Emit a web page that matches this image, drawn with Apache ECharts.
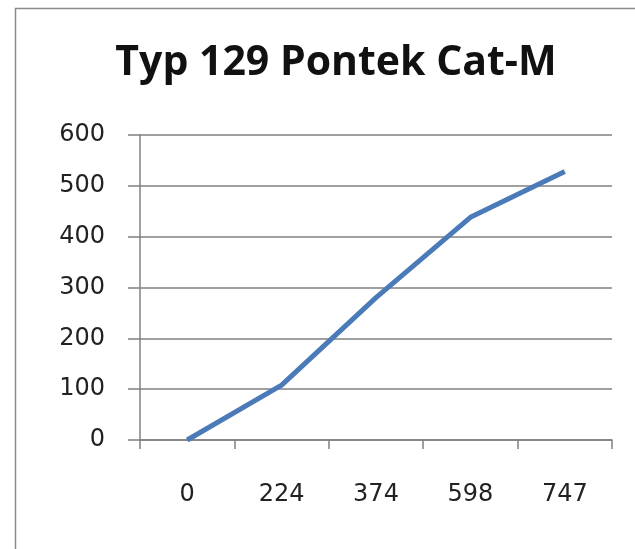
<!DOCTYPE html>
<html>
  <head>
    <meta charset="utf-8" />
    <title>ECharts</title>
    <script src="https://cdn.jsdelivr.net/npm/echarts@6/dist/echarts.min.js"></script>
    <style>
      body { margin: 0; background: #fff; }
    </style>
  </head>
  <body>
    <div id="main" style="width: 635px;height:549px;"></div>
    <script type="text/javascript">
      // data
      var categories = ['0', '224', '374', '598', '747'];
      var values = [0, 108, 280, 438, 528];
      var yTicks = [0, 100, 200, 300, 400, 500, 600];

      var myChart = echarts.init(document.getElementById('main'));
      myChart.setOption({
        animation: false,
        backgroundColor: '#fff',
        title: {
          text: 'Typ 129 Pontek Cat-M',
          left: 331,
          textAlign: 'center',
          top: 38,
          textStyle: { fontFamily: 'Open Sans', fontWeight: 'bold', fontSize: 41, color: '#111' }
        },
        graphic: [{
          type: 'rect',
          shape: { x: 15.5, y: 8.5, width: 640, height: 560 },
          style: { fill: 'none', stroke: '#8c8c8c', lineWidth: 1.5 },
          silent: true
        }],
        grid: { left: 140, right: 23, top: 135, bottom: 109 },
        xAxis: {
          type: 'category',
          data: categories,
          boundaryGap: true,
          axisLine: { lineStyle: { color: '#808080', width: 1.5 } },
          axisTick: { show: true, length: 9, lineStyle: { color: '#808080', width: 1.5 } },
          axisLabel: { margin: 43, fontFamily: 'DejaVu Sans', fontSize: 24, color: '#222' }
        },
        yAxis: {
          type: 'value',
          min: yTicks[0],
          max: yTicks[yTicks.length - 1],
          interval: 100,
          axisLine: { show: true, lineStyle: { color: '#808080', width: 1.5 } },
          axisTick: { show: true, length: 12, lineStyle: { color: '#808080', width: 1.5 } },
          splitLine: { lineStyle: { color: '#808080', width: 1.5 } },
          axisLabel: { margin: 35, fontFamily: 'DejaVu Sans', fontSize: 24, color: '#222' }
        },
        series: [{
          type: 'line',
          data: values,
          symbol: 'none',
          lineStyle: { color: '#4a7ab8', width: 5 }
        }]
      });
    </script>
  </body>
</html>
